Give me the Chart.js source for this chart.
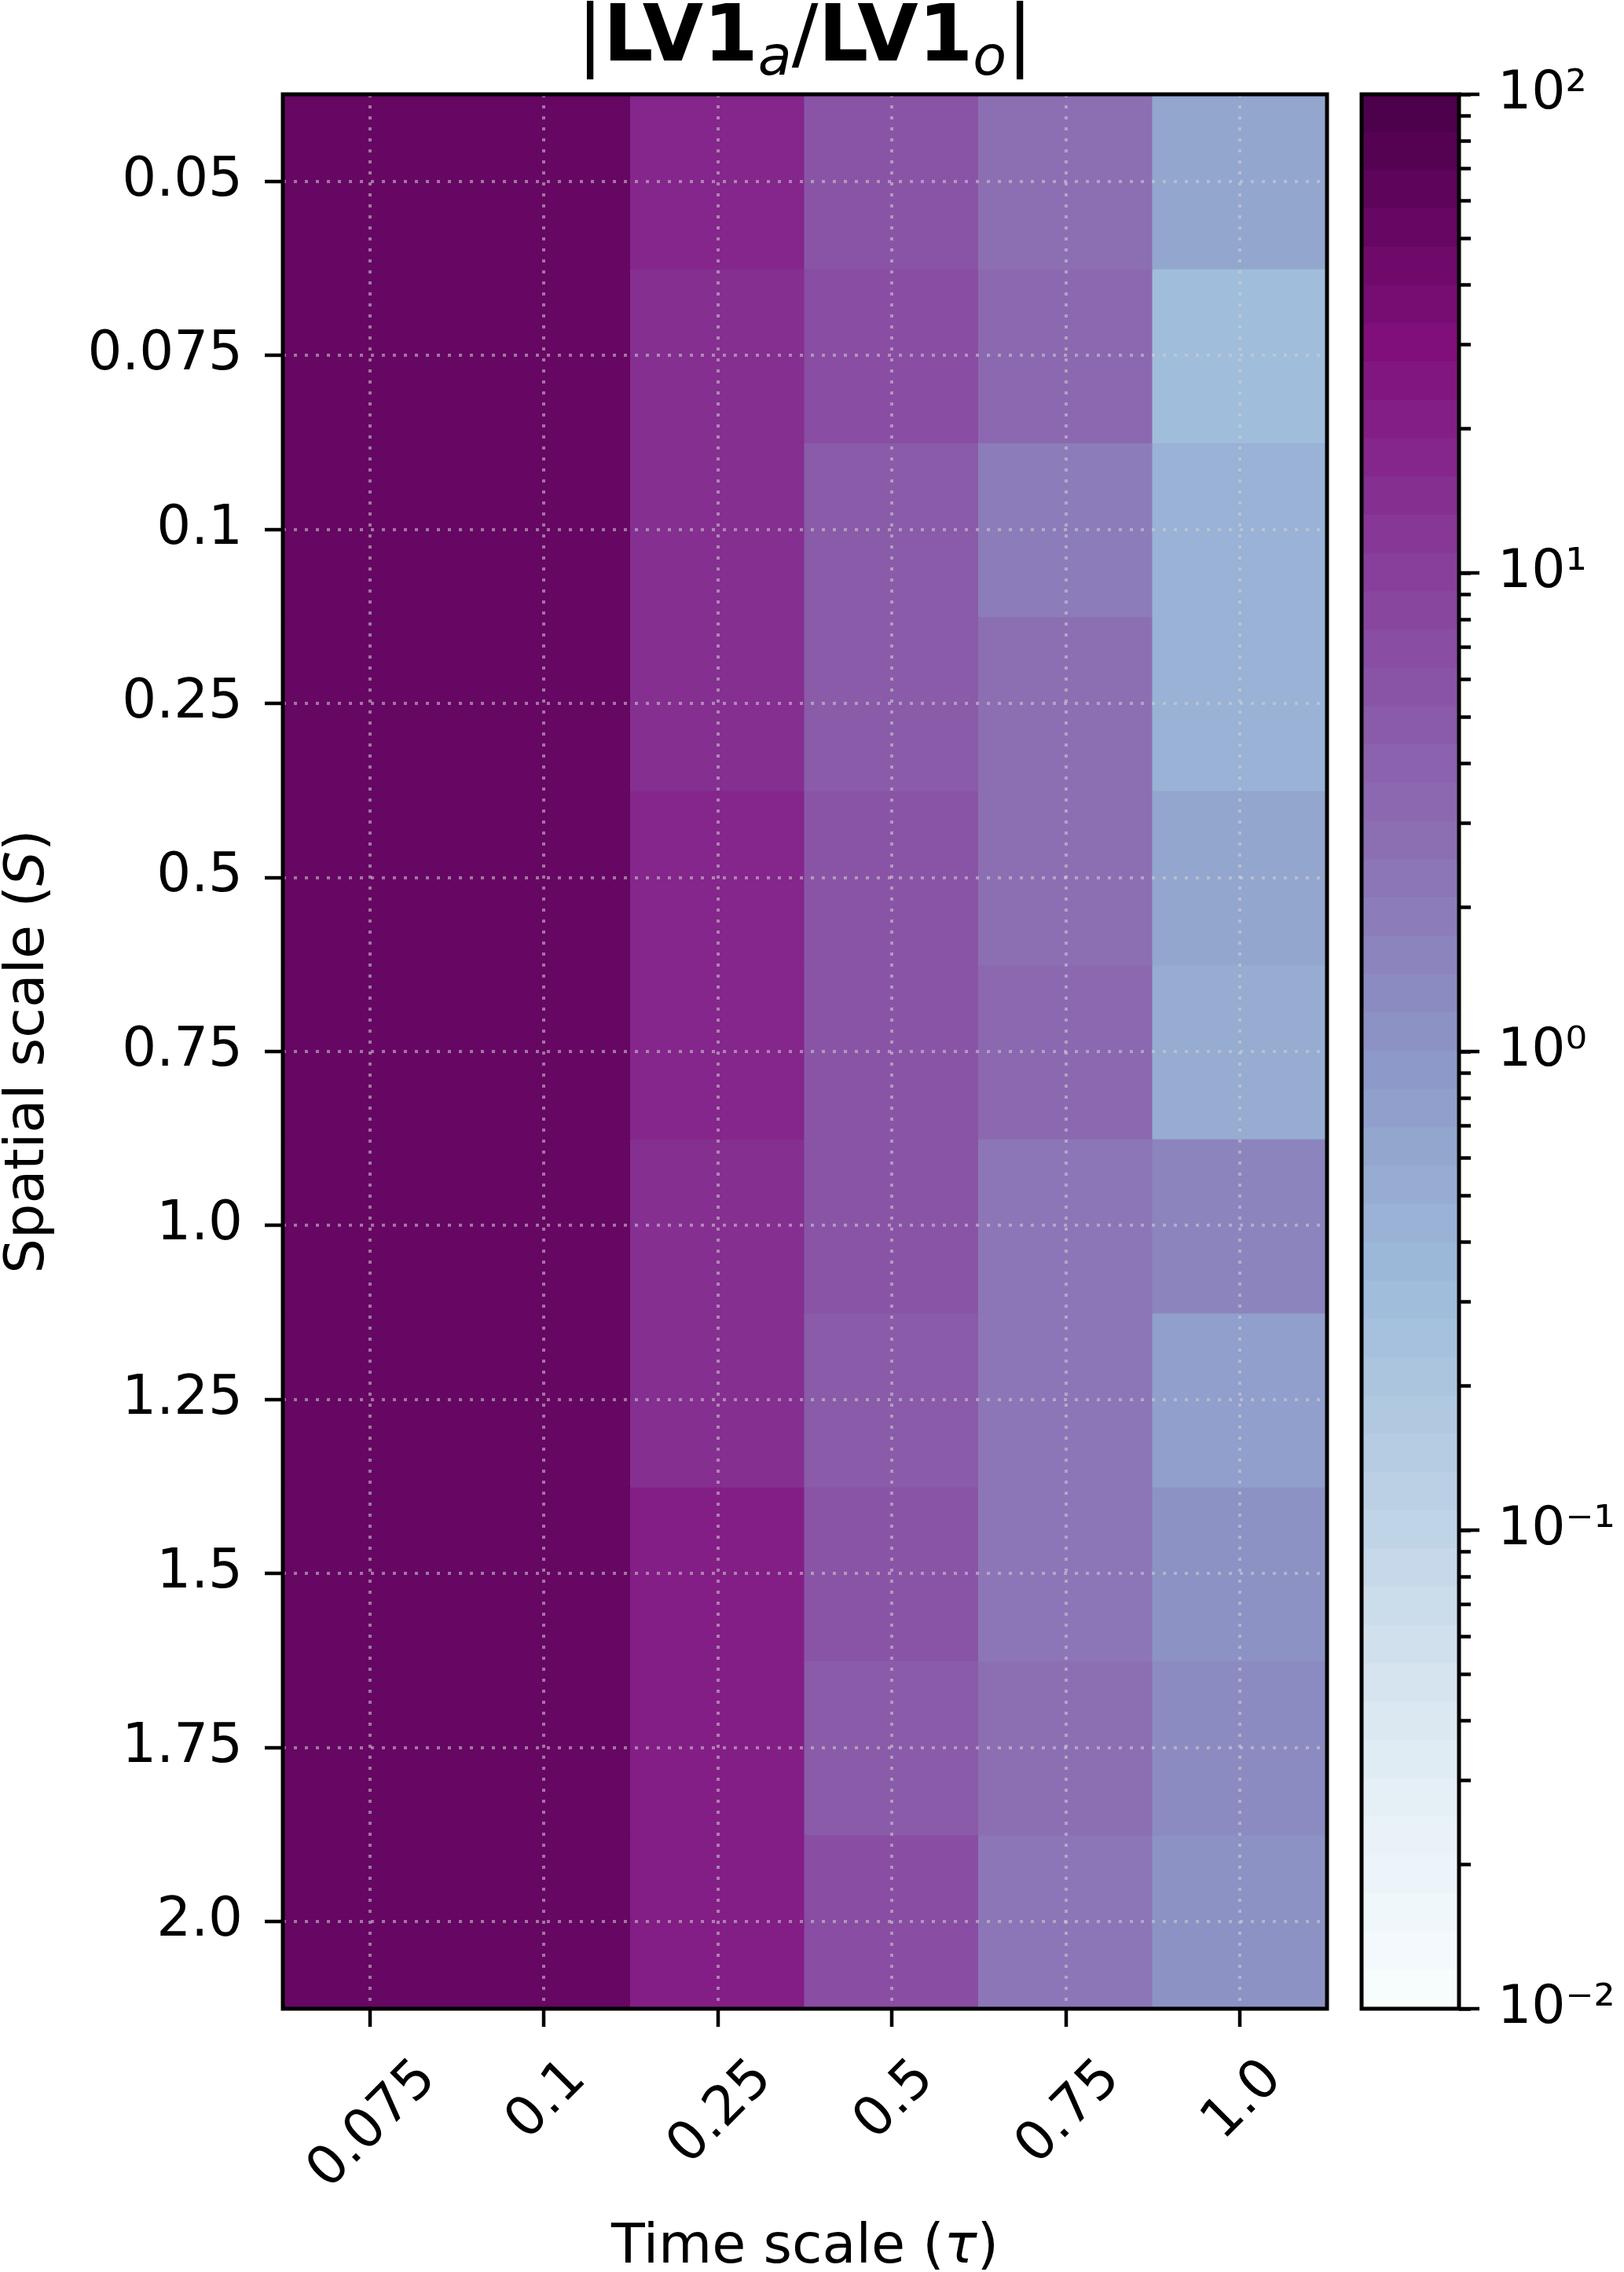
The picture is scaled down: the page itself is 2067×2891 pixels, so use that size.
<!DOCTYPE html>
<html>
<head>
<meta charset="utf-8">
<title>|LV1a/LV1o|</title>
<script src="https://cdn.jsdelivr.net/npm/chart.js@4.4.1/dist/chart.umd.min.js"></script>
<style>
  html, body { margin: 0; padding: 0; background: #fff; }
  #wrap { position: relative; width: 2067px; height: 2891px; }
  #heat { position: absolute; left: 0; top: 0; }
  #cbar { position: absolute; left: 1700px; top: 0; }
</style>
</head>
<body>
<div id="wrap">
  <canvas id="heat" width="1720" height="2891"></canvas>
  <canvas id="cbar" width="367" height="2891"></canvas>
</div>
<script>
// axis categories
const timeLabels = ['0.075', '0.1', '0.25', '0.5', '0.75', '1.0'];
const spatialLabels = ['0.05', '0.075', '0.1', '0.25', '0.5', '0.75', '1.0', '1.25', '1.5', '1.75', '2.0'];

// |LV1a/LV1o| per time-scale column, top row (S = 0.05) first
const tau0075 = [52.5, 52.5, 52.5, 52.5, 52.5, 52.5, 52.5, 52.5, 52.5, 52.5, 52.5];
const tau01   = [52, 52, 52, 52, 52, 52, 52, 52, 52, 52, 52];
const tau025  = [17.5, 14.5, 14.5, 14.5, 17.5, 17.5, 14.5, 14.5, 21, 21, 21];
const tau05   = [5.8, 6.9, 4.8, 4.8, 5.8, 5.8, 5.8, 4.8, 5.8, 4.8, 6.9];
const tau075  = [2.8, 3.3, 1.9, 2.8, 2.8, 3.3, 2.3, 2.3, 2.3, 2.8, 2.3];
const tau1    = [0.63, 0.30, 0.44, 0.44, 0.63, 0.52, 1.6, 0.76, 1.1, 1.3, 1.1];
const columns = [tau0075, tau01, tau025, tau05, tau075, tau1];

// colorbar ticks
const cbarMajorTicks = [0.01, 0.1, 1, 10, 100];
const cbarTickLabels = ['10\u207B\u00B2', '10\u207B\u00B9', '10\u2070', '10\u00B9', '10\u00B2'];

const LOG_MIN = -2, LOG_MAX = 2, N_LEVELS = 50;
const FONT = '"DejaVu Sans", sans-serif';
Chart.defaults.font.family = FONT;
Chart.defaults.color = '#000';

// matplotlib BuPu
const BUPU = [[247,252,253],[224,236,244],[191,211,230],[158,188,218],[140,150,198],
              [140,107,177],[136,65,157],[129,15,124],[77,0,75]];

function bupu(t) {
    t = Math.min(1, Math.max(0, t));
    const p = t * 8;
    const i = Math.min(7, Math.floor(p));
    const f = p - i;
    const a = BUPU[i], b = BUPU[i + 1];
    return 'rgb(' + a.map((v, k) => Math.round(v + (b[k] - v) * f)).join(',') + ')';
}

// log norm + 50 level lut
function levelColor(v) {
    const t = (Math.log10(v) - LOG_MIN) / (LOG_MAX - LOG_MIN);
    const idx = Math.min(N_LEVELS - 1, Math.max(0, Math.floor(t * N_LEVELS)));
    return bupu(idx / (N_LEVELS - 1));
}

const frame = {
    id: 'frame',
    afterDraw(chart) {
        const {ctx, chartArea: a} = chart;
        ctx.save();
        ctx.strokeStyle = '#000';
        ctx.lineWidth = 5;
        ctx.strokeRect(a.left, a.top, a.right - a.left, a.bottom - a.top);
        ctx.restore();
    }
};

function drawParts(ctx, parts, cx, baseline) {
    let total = 0;
    const widths = parts.map(p => {
        ctx.font = p[1];
        const w = ctx.measureText(p[0]).width;
        total += w;
        return w;
    });
    let x = cx - total / 2;
    parts.forEach((p, i) => {
        ctx.font = p[1];
        ctx.fillText(p[0], x, baseline + p[2]);
        x += widths[i];
    });
}

const heatText = {
    id: 'heatText',
    afterDraw(chart) {
        const {ctx, chartArea: a} = chart;
        const xs = chart.scales.x;
        const cx = (a.left + a.right) / 2;
        ctx.save();
        ctx.fillStyle = '#000';
        ctx.textAlign = 'left';
        ctx.textBaseline = 'alphabetic';

        // rotated x tick labels, bbox centred under the tick
        const fs = 69;
        ctx.font = fs + 'px ' + FONT;
        timeLabels.forEach((lab, i) => {
            const x = xs.getPixelForValue(i);
            const w = ctx.measureText(lab).width;
            const H = (w + 1.164 * fs) * Math.SQRT1_2;
            ctx.save();
            ctx.translate(x, a.bottom + 46 + H / 2);
            ctx.rotate(-Math.PI / 4);
            ctx.textAlign = 'center';
            ctx.fillText(lab, 0, 0.346 * fs);
            ctx.restore();
        });

        // x axis label
        drawParts(ctx, [
            ['Time scale (', '70px ' + FONT, 0],
            ['\u03C4', 'italic 70px ' + FONT, 0],
            [')', '70px ' + FONT, 0]
        ], cx, a.bottom + 323);

        // y axis label
        ctx.save();
        ctx.translate(a.left - 305, (a.top + a.bottom) / 2);
        ctx.rotate(-Math.PI / 2);
        drawParts(ctx, [
            ['Spatial scale (', '70px ' + FONT, 0],
            ['S', 'italic 70px ' + FONT, 0],
            [')', '70px ' + FONT, 0]
        ], 0, 0);
        ctx.restore();

        // title
        drawParts(ctx, [
            ['|', '100px ' + FONT, 0],
            ['LV1', 'bold 100px ' + FONT, 0],
            ['a', 'italic 70px ' + FONT, 18],
            ['/', '100px ' + FONT, 0],
            ['LV1', 'bold 100px ' + FONT, 0],
            ['o', 'italic 70px ' + FONT, 18],
            ['|', '100px ' + FONT, 0]
        ], cx, a.top - 43);
        ctx.restore();
    }
};

const gridStyle = {
    color: 'rgba(210,210,210,0.55)',
    lineWidth: 4,
    z: 1,
    drawTicks: true,
    tickLength: 23,
    tickWidth: 4.5,
    tickColor: '#000',
    tickBorderDash: []
};

// one floating-bar dataset per spatial row
const heatDatasets = spatialLabels.map((lab, r) => ({
    label: lab,
    data: timeLabels.map(() => [r - 0.5, r + 0.5]),
    backgroundColor: columns.map(col => levelColor(col[r])),
    borderWidth: 0,
    inflateAmount: 1,
    grouped: false,
    barPercentage: 1,
    categoryPercentage: 1
}));

new Chart(document.getElementById('heat'), {
    type: 'bar',
    data: { labels: timeLabels, datasets: heatDatasets },
    options: {
        responsive: false,
        animation: false,
        devicePixelRatio: 1,
        events: [],
        layout: { padding: { left: 60, right: 31, top: 120, bottom: 235 } },
        plugins: { legend: { display: false }, tooltip: { enabled: false } },
        scales: {
            x: {
                type: 'category',
                offset: true,
                grid: Object.assign({ offset: false }, gridStyle),
                border: { display: false, dash: [4, 10] },
                ticks: { display: false },
                afterFit(scale) { scale.height = 100; }
            },
            y: {
                type: 'linear',
                reverse: true,
                min: -0.5,
                max: 10.5,
                grid: gridStyle,
                border: { display: false, dash: [4, 10] },
                afterBuildTicks(scale) {
                    scale.ticks = spatialLabels.map((_, i) => ({ value: i }));
                },
                ticks: {
                    autoSkip: false,
                    padding: 28,
                    font: { size: 69 },
                    color: '#000',
                    callback: (v) => spatialLabels[v]
                },
                afterFit(scale) { scale.width = 300; }
            }
        }
    },
    plugins: [frame, heatText]
});

// colorbar: 50 bands on a log axis
const bandEdges = [];
for (let i = 0; i <= N_LEVELS; i++) {
    bandEdges.push(Math.pow(10, LOG_MIN + (LOG_MAX - LOG_MIN) * i / N_LEVELS));
}
const cbarDatasets = [];
for (let i = 0; i < N_LEVELS; i++) {
    cbarDatasets.push({
        data: [[bandEdges[i], bandEdges[i + 1]]],
        backgroundColor: bupu(i / (N_LEVELS - 1)),
        borderWidth: 0,
        inflateAmount: 1,
        grouped: false,
        barPercentage: 1,
        categoryPercentage: 1
    });
}
const cbarTicks = [];
cbarMajorTicks.forEach((m, k) => {
    cbarTicks.push(m);
    if (k < cbarMajorTicks.length - 1) {
        for (let s = 2; s <= 9; s++) cbarTicks.push(m * s);
    }
});

const majorTickMarks = {
    id: 'majorTickMarks',
    afterDraw(chart) {
        const {ctx, chartArea: a} = chart;
        const ys = chart.scales.y;
        ctx.save();
        ctx.strokeStyle = '#000';
        ctx.lineWidth = 4.5;
        cbarMajorTicks.forEach(v => {
            const y = ys.getPixelForValue(v);
            ctx.beginPath();
            ctx.moveTo(a.right, y);
            ctx.lineTo(a.right + 26, y);
            ctx.stroke();
        });
        ctx.restore();
    }
};

new Chart(document.getElementById('cbar'), {
    type: 'bar',
    data: { labels: [''], datasets: cbarDatasets },
    options: {
        responsive: false,
        animation: false,
        devicePixelRatio: 1,
        events: [],
        layout: { padding: { left: 33, right: 0, top: 120, bottom: 335 } },
        plugins: { legend: { display: false }, tooltip: { enabled: false } },
        scales: {
            x: { display: false },
            y: {
                type: 'logarithmic',
                position: 'right',
                min: 0.01,
                max: 100,
                grid: {
                    drawOnChartArea: false,
                    drawTicks: true,
                    tickLength: 15,
                    tickWidth: 4.5,
                    tickColor: '#000'
                },
                border: { display: false },
                afterBuildTicks(scale) {
                    scale.ticks = cbarTicks.map(v => ({ value: v }));
                },
                ticks: {
                    autoSkip: false,
                    padding: 34,
                    font: { size: 68 },
                    color: '#000',
                    callback: (v) => {
                        const k = cbarMajorTicks.findIndex(m => Math.abs(Math.log10(m) - Math.log10(v)) < 1e-6);
                        return k >= 0 ? cbarTickLabels[k] : '';
                    }
                },
                afterFit(scale) { scale.width = 210; }
            }
        }
    },
    plugins: [frame, majorTickMarks]
});
</script>
</body>
</html>
